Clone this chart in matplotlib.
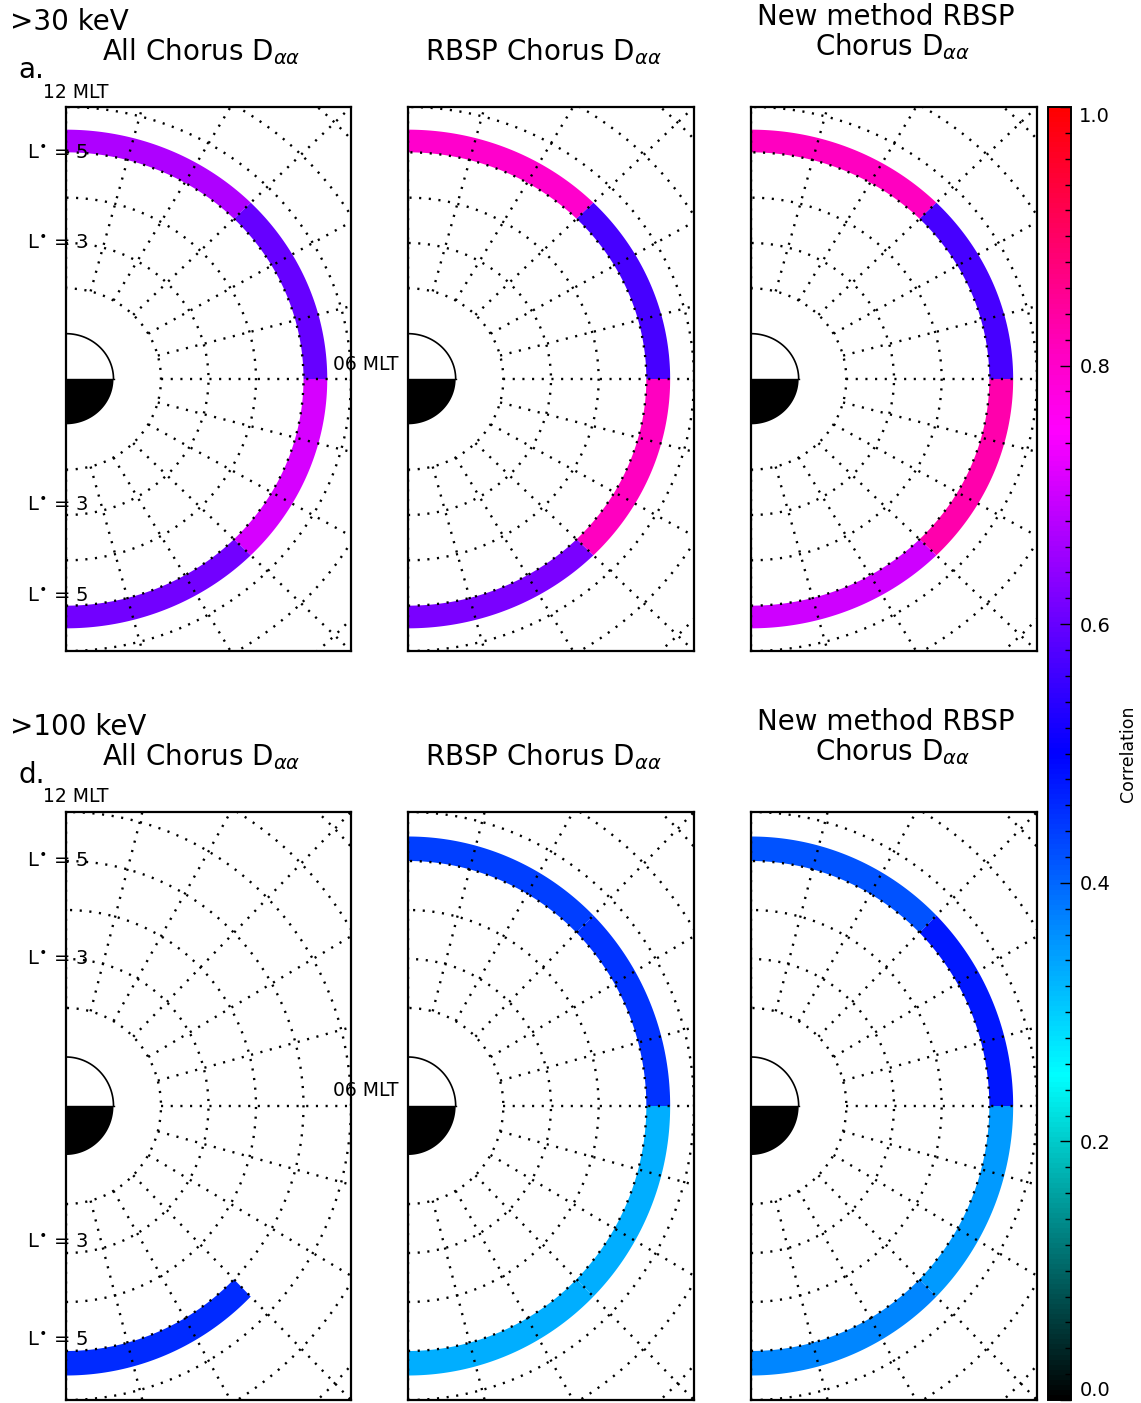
import numpy as np
import matplotlib.pyplot as plt
from matplotlib.colors import LinearSegmentedColormap, Normalize

W, H = 1141, 1403

# MLT sectors: 12-09, 09-06, 06-03, 03-00 ; correlation in each sector
mlt_edges = [12, 9, 6, 3, 0]
corr_30_all = [0.67, 0.60, 0.71, 0.61]
corr_30_rbsp = [0.80, 0.57, 0.81, 0.62]
corr_30_new = [0.81, 0.57, 0.83, 0.70]
corr_100_all = [np.nan, np.nan, np.nan, 0.46]
corr_100_rbsp = [0.44, 0.45, 0.33, 0.33]
corr_100_new = [0.42, 0.48, 0.35, 0.37]

L_band = (5.0, 5.5)          # L* range of the coloured ring
L_circles = [2, 3, 4, 5, 6, 7, 8]
L_labels = [5, 3, -3, -5]
cb_ticks = [0.0, 0.2, 0.4, 0.6, 0.8, 1.0]

# black -> cyan -> blue -> magenta -> red
cmap = LinearSegmentedColormap.from_list(
    'corr', [(0.0, (0, 0, 0)), (0.25, (0, 1, 1)), (0.5, (0, 0, 1)),
             (0.75, (1, 0, 1)), (1.0, (1, 0, 0))])
norm = Normalize(0, 1)

fig = plt.figure(figsize=(W / 100, H / 100), dpi=100)


def px_rect(x0, y0, x1, y1):
    return [x0 / W, 1 - y1 / H, (x1 - x0) / W, (y1 - y0) / H]


def ftext(x, y, s, **kw):
    fig.text(x / W, 1 - y / H, s, **kw)


def mlt_angle(h):
    return np.deg2rad((h - 6) * 15.0)


def draw_panel(ax, corr, first_col):
    ax.set_xlim(0, 6)
    ax.set_ylim(-6, 6)
    ax.set_xticks([])
    ax.set_yticks([])
    for s in ax.spines.values():
        s.set_linewidth(1.6)

    # coloured ring
    for i, c in enumerate(corr):
        if np.isnan(c):
            continue
        th = np.linspace(mlt_angle(mlt_edges[i]), mlt_angle(mlt_edges[i + 1]), 80)
        xs = np.concatenate([L_band[1] * np.cos(th), L_band[0] * np.cos(th[::-1])])
        ys = np.concatenate([L_band[1] * np.sin(th), L_band[0] * np.sin(th[::-1])])
        ax.fill(xs, ys, color=cmap(norm(c)), lw=0, zorder=2)

    # dotted L / MLT grid
    dot = dict(color='black', lw=1.7, linestyle=(0, (0.9, 3.2)), zorder=3)
    th = np.linspace(-np.pi / 2, np.pi / 2, 400)
    for L in L_circles:
        ax.plot(L * np.cos(th), L * np.sin(th), **dot)
    for h in range(0, 13):
        a = mlt_angle(h)
        ax.plot([2 * np.cos(a), 9 * np.cos(a)], [2 * np.sin(a), 9 * np.sin(a)], **dot)

    # Earth: day side open, night side filled
    th_day = np.linspace(0, np.pi / 2, 100)
    th_night = np.linspace(-np.pi / 2, 0, 100)
    ax.fill(np.r_[0, np.cos(th_night), 0], np.r_[0, np.sin(th_night), 0],
            color='black', lw=0, zorder=4)
    ax.plot(np.cos(th_day), np.sin(th_day), color='black', lw=1.2, zorder=4)
    ax.plot([0, 1], [0, 0], color='black', lw=1.0, zorder=4)

    if first_col:
        for L in L_labels:
            yy = L if L > 0 else L + 0.23
            ax.text(0.47, yy, r'L$^{\bullet}$ = ' + str(abs(L)), ha='right', va='center',
                    fontsize=14, clip_on=False, zorder=5)


cols = [(66, 351), (408, 694), (751, 1037)]
rows = [(107, 651), (812, 1400)]
data = [[corr_30_all, corr_30_rbsp, corr_30_new],
        [corr_100_all, corr_100_rbsp, corr_100_new]]

for r, (y0, y1) in enumerate(rows):
    for c, (x0, x1) in enumerate(cols):
        ax = fig.add_axes(px_rect(x0, y0, x1, y1))
        draw_panel(ax, data[r][c], c == 0)

tfs = 20
sub = r'D$_{\alpha\alpha}$'
for r, (dy, energy, letter) in enumerate([(0, '>30 keV', 'a.'), (705, '>100 keV', 'd.')]):
    ftext(10, 22 + dy, energy, fontsize=tfs, ha='left', va='center')
    ftext(201, 52 + dy, 'All Chorus ' + sub, fontsize=tfs, ha='center', va='center')
    ftext(18, 70 + dy, letter, fontsize=tfs, ha='left', va='center')
    ftext(76, 92 + dy, '12 MLT', fontsize=13.5, ha='center', va='center')
    ftext(543, 52 + dy, 'RBSP Chorus ' + sub, fontsize=tfs, ha='center', va='center')
    ftext(886, 17 + dy, 'New method RBSP', fontsize=tfs, ha='center', va='center')
    ftext(893, 47 + dy, 'Chorus ' + sub, fontsize=tfs, ha='center', va='center')

ftext(366, 365, '06 MLT', fontsize=13.5, ha='center', va='center')
ftext(366, 1090, '06 MLT', fontsize=13.5, ha='center', va='center')

# colour bar spanning both rows
cax = fig.add_axes(px_rect(1048, 107, 1071, 1400))
sm = plt.cm.ScalarMappable(norm=norm, cmap=cmap)
cb = fig.colorbar(sm, cax=cax, ticks=cb_ticks)
cb.outline.set_linewidth(1.4)
cb.ax.set_yticklabels(['%.1f' % t for t in cb_ticks], fontsize=14)
cb.ax.yaxis.set_minor_locator(plt.MultipleLocator(0.02))
cb.ax.tick_params(which='major', direction='in', length=8, width=1, pad=6)
cb.ax.tick_params(which='minor', direction='in', length=4, width=1)
ticks = cb.ax.yaxis.get_major_ticks()
ticks[0].label2.set_va('bottom')
ticks[-1].label2.set_va('top')
cb.set_label('Correlation', fontsize=12.5)
cb.ax.yaxis.set_label_coords(3.1, 0.5)

plt.savefig('out.png', dpi=100)
